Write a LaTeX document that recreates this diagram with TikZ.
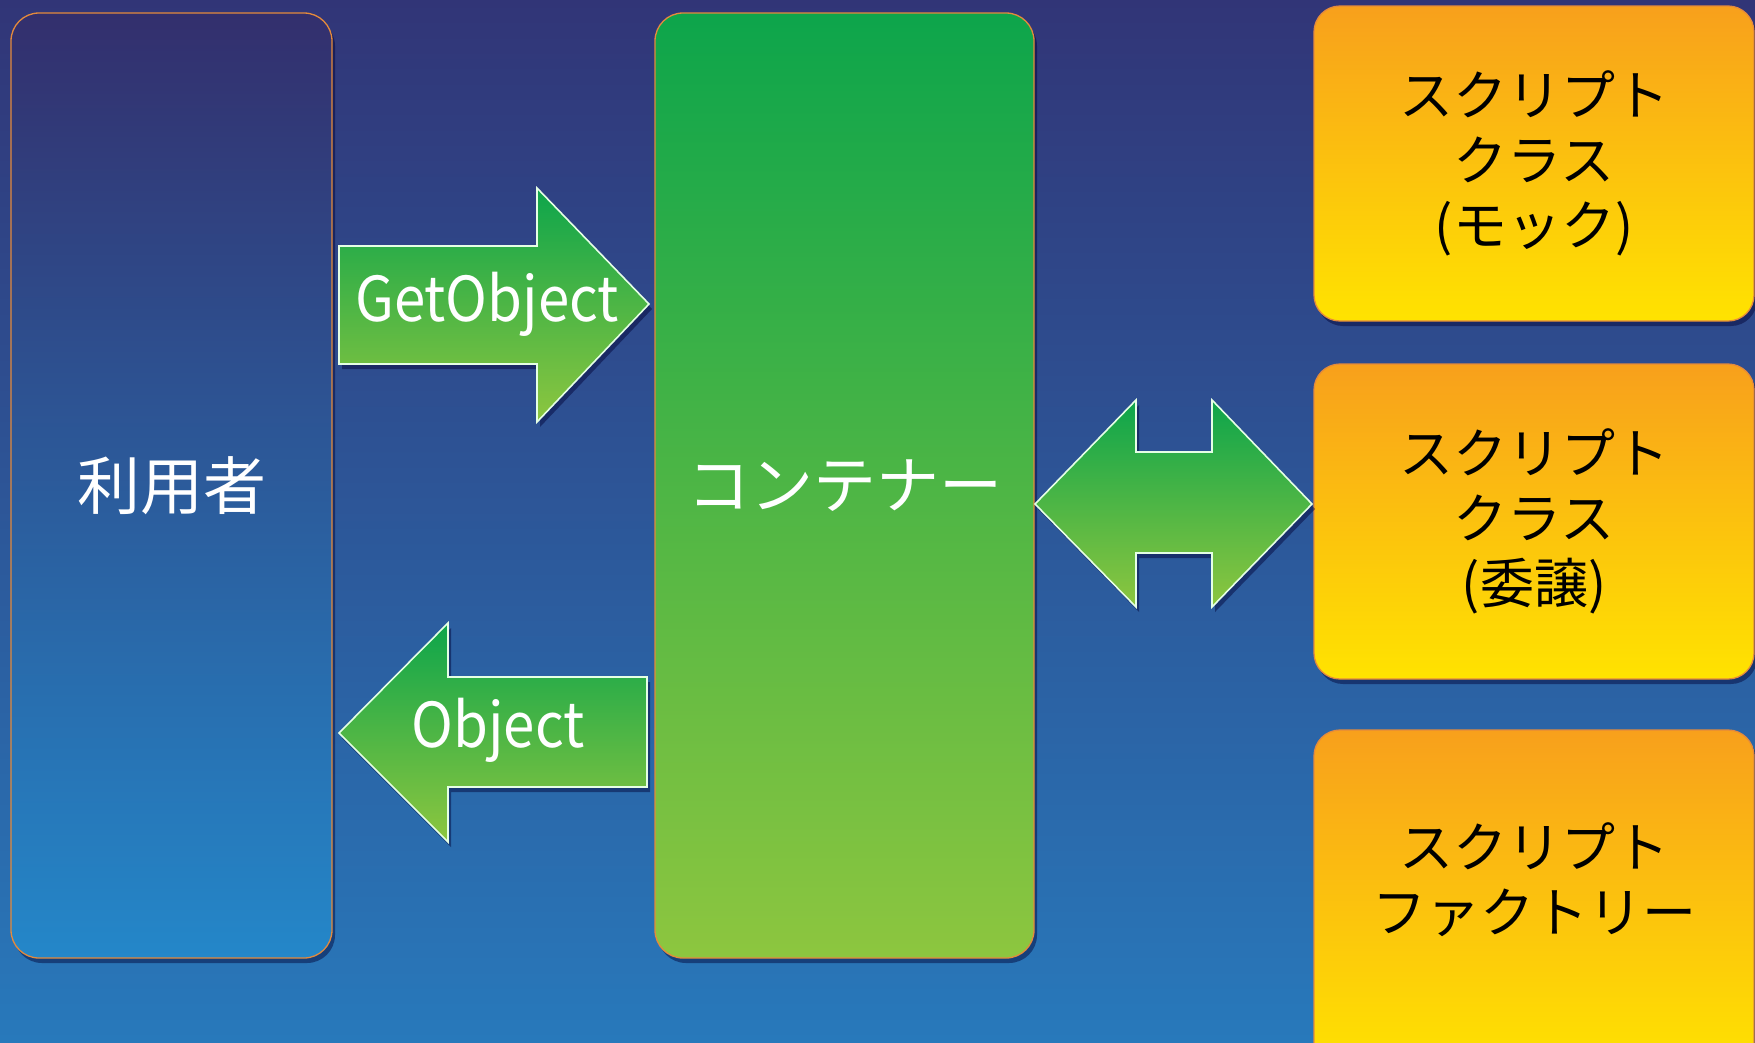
\documentclass[tikz,border=0pt]{standalone}
\usepackage{fontspec}
\usepackage{graphicx}
\setmainfont{Noto Sans CJK JP}
\usetikzlibrary{shadows}
\definecolor{bgtop}{HTML}{313577}
\definecolor{bgbot}{HTML}{2879BB}
\definecolor{usertop}{HTML}{332F6D}
\definecolor{userbot}{HTML}{2487C9}
\definecolor{greentop}{HTML}{0DA54B}
\definecolor{greenbot}{HTML}{8DC63F}
\definecolor{ambertop}{HTML}{F8A01C}
\definecolor{amberbot}{HTML}{FFE300}
\definecolor{rim}{HTML}{E48A3C}
\newcommand{\narrowtext}[1]{\scalebox{0.91}[1]{#1}}
\tikzset{
  softshadow/.style={drop shadow={shadow xshift=3pt,shadow yshift=-5pt,opacity=0.45,fill=black!80!blue}},
  panel/.style={rounded corners=28pt, draw=rim, line width=1.3pt, softshadow,
    font=\fontsize{63}{70}\selectfont, text=white},
  userbox/.style={panel, top color=usertop, bottom color=userbot},
  hubbox/.style={panel, top color=greentop, bottom color=greenbot},
  scriptbox/.style={rounded corners=26pt, draw=rim, line width=1.3pt, softshadow,
    top color=ambertop, bottom color=amberbot, text=black, align=center,
    font=\fontsize{54}{65}\selectfont, minimum width=440pt},
  blockarrow/.style={draw=white!90!green, line width=1.6pt, line join=miter,
    top color=greentop, bottom color=greenbot, softshadow},
  arrowlabel/.style={text=white, font=\fontsize{62}{64}\selectfont, anchor=base}
}
\begin{document}
\begin{tikzpicture}[x=1pt,y=-1pt]
\clip (0,0) rectangle (1755,1042);
% backdrop
\shade[top color=bgtop, bottom color=bgbot] (0,0) rectangle (1755,1042);

% main panels
\node[userbox, minimum width=321pt, minimum height=945pt] (user) at (171.5,485.5) {利用者};
\node[hubbox, minimum width=379pt, minimum height=945pt] (hub) at (844.5,485.5) {コンテナー};

% script implementations
\node[scriptbox, minimum height=315pt] (mock) at (1534,163.5) {スクリプト\\クラス\\(モック)};
\node[scriptbox, minimum height=315pt] (deleg) at (1534,521.5) {スクリプト\\クラス\\(委譲)};
\node[scriptbox, minimum height=340pt] (factory) at (1534,900) {スクリプト\\ファクトリー\\[-20pt]\mbox{}};

% request arrow: user -> container
\shade[blockarrow] (339,246) -- (537,246) -- (537,188) -- (649,304) -- (537,422)
  -- (537,364) -- (339,364) -- cycle;
\node[arrowlabel] (getlbl) at (487,321) {\narrowtext{GetObject}};

% reply arrow: container -> user
\shade[blockarrow] (647,677) -- (448,677) -- (448,623) -- (339,733) -- (448,842)
  -- (448,787) -- (647,787) -- cycle;
\node[arrowlabel] (objlbl) at (498,747) {\narrowtext{Object}};

% two-way link: container <-> scripts
\shade[blockarrow] (1035,504) -- (1136,400) -- (1136,452) -- (1212,452) -- (1212,400)
  -- (1312,504) -- (1212,607) -- (1212,553) -- (1136,553) -- (1136,607) -- cycle;
\end{tikzpicture}
\end{document}
